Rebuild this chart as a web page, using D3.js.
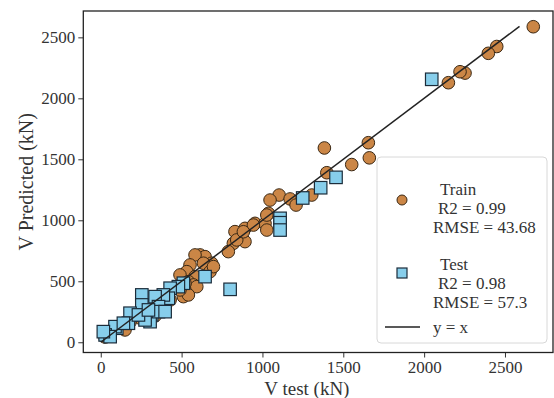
<!DOCTYPE html>
<html>
<head>
<meta charset="utf-8">
<script src="https://cdn.jsdelivr.net/npm/d3@7"></script>
<style>
  html, body { margin: 0; padding: 0; background: #fff; }
  svg { display: block; font-family: "Liberation Serif", "DejaVu Serif", serif; }
</style>
</head>
<body>
<svg id="chart" width="554" height="398"></svg>
<script>
// ---- data (kN) ----
const trainX = [2675,2449,2397,2253,2222,2150,1655,1661,1552,1383,1398,1305,1103,1047,1171,1208,1037,954,1016,1027,1027,892,830,944,820,892,789,841,614,645,583,686,635,552,532,490,583,542,521,573,470,511,676,697,594,542,490,429,367,305,243,181,120,58,27,274,398,336,150,882,521];
const trainY = [2587,2425,2369,2207,2218,2128,1636,1512,1457,1593,1390,1207,1207,1166,1175,1125,1057,975,975,920,1043,934,907,961,811,825,743,839,716,702,716,648,648,634,579,552,538,497,429,470,443,374,579,620,456,388,429,347,306,248,199,166,117,68,43,183,281,216,101,906,484];
const testX = [2047,1455,1360,1249,1109,1109,1109,645,800,511,480,429,418,387,336,357,254,254,315,305,202,181,171,99,88,27,58,16,274,233,357,295,140,398];
const testY = [2156,1352,1267,1183,1016,980,920,538,434,484,456,443,361,388,374,292,388,306,224,169,224,238,156,115,128,60,46,87,183,224,251,265,156,251];
const lineEnds = [0, 2590];
const xTicks = [0, 500, 1000, 1500, 2000, 2500];
const yTicks = [0, 500, 1000, 1500, 2000, 2500];
const trainLabel = ["Train", "R2 = 0.99", "RMSE = 43.68"];
const testLabel = ["Test", "R2 = 0.98", "RMSE = 57.3"];
const lineLabel = "y = x";
const xTitle = "V test (kN)";
const yTitle = "V Predicted (kN)";

// ---- layout ----
const svg = d3.select("#chart");
const L = 83.3, R = 553, T = 11, B = 352.5;
const x = d3.scaleLinear().domain([-108, 2797]).range([L, R]);
const y = d3.scaleLinear().domain([-84, 2716]).range([B, T]);

const trainFill = "#cb8646", trainEdge = "#3a2814";
const testFill = "#87ceeb", testEdge = "#1b2c3a";
const serif = "Liberation Serif, DejaVu Serif, serif";

// train points
svg.append("g").selectAll("circle")
  .data(d3.range(trainX.length))
  .join("circle")
  .attr("cx", i => x(trainX[i]))
  .attr("cy", i => y(trainY[i]))
  .attr("r", 6.3)
  .attr("fill", trainFill)
  .attr("stroke", trainEdge)
  .attr("stroke-width", 1);

// test points
const sq = 12.5;
svg.append("g").selectAll("rect")
  .data(d3.range(testX.length))
  .join("rect")
  .attr("x", i => x(testX[i]) - sq / 2)
  .attr("y", i => y(testY[i]) - sq / 2)
  .attr("width", sq)
  .attr("height", sq)
  .attr("fill", testFill)
  .attr("stroke", testEdge)
  .attr("stroke-width", 1.2);

// y = x line
svg.append("line")
  .attr("x1", x(lineEnds[0])).attr("y1", y(lineEnds[0]))
  .attr("x2", x(lineEnds[1])).attr("y2", y(lineEnds[1]))
  .attr("stroke", "#222").attr("stroke-width", 1.5);

// axes
const xAxis = svg.append("g").attr("transform", `translate(0,${B})`)
  .call(d3.axisBottom(x).tickValues(xTicks).tickSize(5).tickPadding(3).tickFormat(d3.format("d")));
const yAxis = svg.append("g").attr("transform", `translate(${L},0)`)
  .call(d3.axisLeft(y).tickValues(yTicks).tickSize(5).tickPadding(3).tickFormat(d3.format("d")));
[xAxis, yAxis].forEach(a => {
  a.attr("font-family", serif);
  a.select(".domain").remove();
  a.selectAll("text").attr("font-family", serif).attr("font-size", 17).attr("fill", "#333");
  a.selectAll("line").attr("stroke", "#333");
});

// frame
svg.append("rect").attr("x", L).attr("y", T).attr("width", R - L).attr("height", B - T)
  .attr("fill", "none").attr("stroke", "#222").attr("stroke-width", 1.3);

// axis titles
svg.append("text").attr("x", (x(0) + x(2500)) / 2 + 4).attr("y", 395)
  .attr("text-anchor", "middle").attr("font-size", 19).attr("fill", "#333").text(xTitle);
svg.append("text").attr("transform", `translate(33,${(T + B) / 2}) rotate(-90)`)
  .attr("text-anchor", "middle").attr("font-size", 20).attr("fill", "#333").text(yTitle);

// legend
const lg = svg.append("g");
lg.append("rect").attr("x", 377).attr("y", 157).attr("width", 170).attr("height", 186)
  .attr("rx", 4).attr("fill", "#fff").attr("fill-opacity", 0.85)
  .attr("stroke", "#d8d8d8").attr("stroke-width", 1);
lg.append("circle").attr("cx", 402).attr("cy", 200).attr("r", 5)
  .attr("fill", trainFill).attr("stroke", trainEdge).attr("stroke-width", 1);
lg.append("rect").attr("x", 397).attr("y", 268).attr("width", 10).attr("height", 10)
  .attr("fill", testFill).attr("stroke", testEdge).attr("stroke-width", 1.2);
lg.append("line").attr("x1", 385).attr("x2", 420).attr("y1", 327).attr("y2", 327)
  .attr("stroke", "#222").attr("stroke-width", 1.5);
const lxs = [440, 438, 433];
trainLabel.forEach((t, i) => lg.append("text").attr("x", lxs[i]).attr("y", 195 + i * 19)
  .attr("font-size", 17).attr("fill", "#333").text(t));
testLabel.forEach((t, i) => lg.append("text").attr("x", lxs[i]).attr("y", 270 + i * 19)
  .attr("font-size", 17).attr("fill", "#333").text(t));
lg.append("text").attr("x", 433).attr("y", 333).attr("font-size", 17).attr("fill", "#333").text(lineLabel);
</script>
</body>
</html>
